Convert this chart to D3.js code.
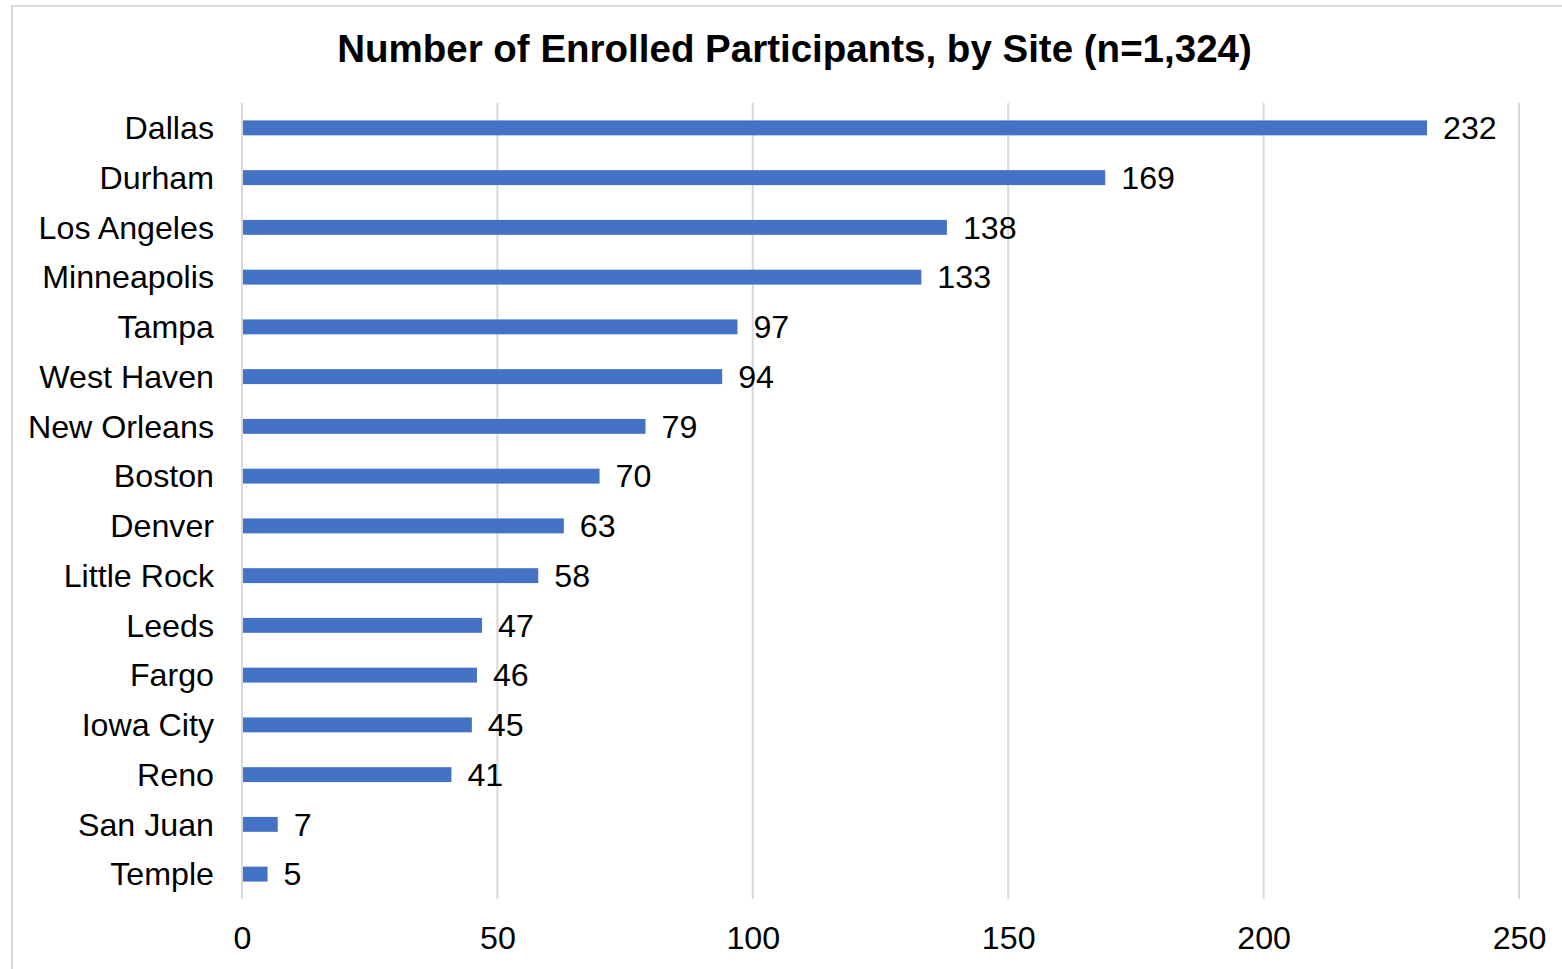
<!DOCTYPE html>
<html>
<head>
<meta charset="utf-8">
<script src="https://cdn.jsdelivr.net/npm/d3@7"></script>
<style>
  html, body { margin: 0; padding: 0; background: #fff; }
  svg { display: block; font-family: "Liberation Sans", Arial, sans-serif; }
</style>
</head>
<body>
<svg id="chart" width="1562" height="969"></svg>
<script>
const title = "Number of Enrolled Participants, by Site (n=1,324)";
const sites = ["Dallas", "Durham", "Los Angeles", "Minneapolis", "Tampa", "West Haven", "New Orleans", "Boston", "Denver", "Little Rock", "Leeds", "Fargo", "Iowa City", "Reno", "San Juan", "Temple"];
const participants = [232, 169, 138, 133, 97, 94, 79, 70, 63, 58, 47, 46, 45, 41, 7, 5];
const xTicks = [0, 50, 100, 150, 200, 250];

const svg = d3.select("#chart");
const W = 1562, H = 969;
const plot = { left: 242, right: 1519, top: 103, bottom: 899 };
const fs = 32.2;

svg.append("rect").attr("width", W).attr("height", H).attr("fill", "#fff");
// outer chart border (extends past the image edge on right/bottom)
svg.append("rect")
  .attr("x", 12).attr("y", 6).attr("width", 1600).attr("height", 1000)
  .attr("fill", "none").attr("stroke", "#d9d9d9").attr("stroke-width", 2);

const x = d3.scaleLinear().domain([0, 250]).range([plot.left, plot.right]);
const y = d3.scaleBand().domain(sites).range([plot.top, plot.bottom]).paddingInner(0.7).paddingOuter(0.35);

// gridlines
svg.append("g").selectAll("line").data(xTicks).join("line")
  .attr("x1", d => x(d)).attr("x2", d => x(d))
  .attr("y1", plot.top).attr("y2", plot.bottom)
  .attr("stroke", "#d9d9d9").attr("stroke-width", 2);

// bars
const data = sites.map((s, i) => ({ site: s, value: participants[i] }));
svg.append("g").selectAll("rect").data(data).join("rect")
  .attr("x", x(0) + 1)
  .attr("y", d => y(d.site))
  .attr("width", d => x(d.value) - x(0) - 1)
  .attr("height", y.bandwidth())
  .attr("fill", "#4472C4");

// value labels
svg.append("g").selectAll("text").data(data).join("text")
  .attr("x", d => x(d.value) + 16)
  .attr("y", d => y(d.site) + y.bandwidth() / 2)
  .attr("dy", "0.35em")
  .attr("font-size", fs)
  .attr("fill", "#000")
  .text(d => d.value);

// y axis
const yAxis = svg.append("g")
  .attr("transform", `translate(${plot.left},0)`)
  .call(d3.axisLeft(y).tickSize(0).tickPadding(28));
yAxis.select(".domain").remove();
yAxis.selectAll("text").attr("font-size", fs).attr("fill", "#000")
  .attr("font-family", "'Liberation Sans', Arial, sans-serif").attr("dy", "0.35em");

// x axis
const xAxis = svg.append("g")
  .attr("transform", `translate(0,${plot.bottom})`)
  .call(d3.axisBottom(x).tickValues(xTicks).tickSize(0).tickPadding(27));
xAxis.select(".domain").remove();
xAxis.selectAll("text").attr("font-size", fs).attr("fill", "#000")
  .attr("font-family", "'Liberation Sans', Arial, sans-serif");

// title
svg.append("text")
  .attr("x", 794.5).attr("y", 62)
  .attr("text-anchor", "middle")
  .attr("font-size", 38.5).attr("font-weight", "bold").attr("fill", "#000")
  .text(title);
</script>
</body>
</html>
